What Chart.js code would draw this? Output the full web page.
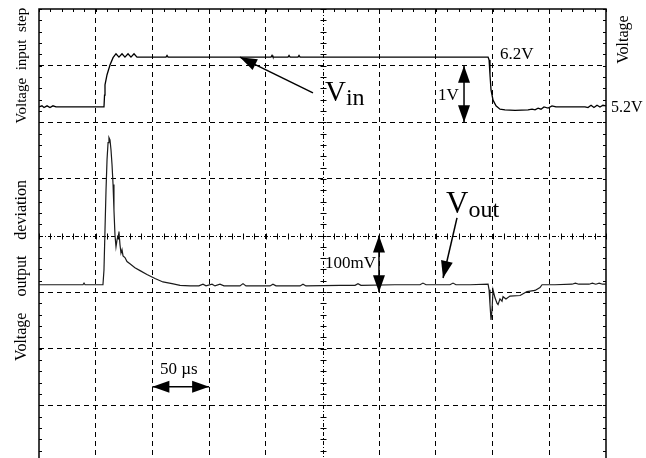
<!DOCTYPE html>
<html><head><meta charset="utf-8">
<script src="https://cdn.jsdelivr.net/npm/chart.js@4.4.1/dist/chart.umd.min.js"></script>
<style>html,body{margin:0;padding:0;background:#fff;overflow:hidden}#wrap{position:relative;width:646px;height:463px}</style>
</head><body><div id="wrap"><canvas id="c"></canvas></div>
<script>
// Time axis (µs), 50 µs per division
const timeRange = [0, 500];
const timeStep = 50;
// Output deviation axis (mV), 100 mV per division
const voutRange = [-300, 500];
const voutStep = 100;
// Input voltage axis (V), 1 V per division
const vinRange = [-0.8, 7.2];

// Input voltage step trace
const vinTime = [0,2.6,4.4,7.1,9.7,12.3,15.0,24.7,56.4,57.3,57.8,58.2,60.0,62.6,65.3,67.9,70.5,73.2,75.8,78.5,81.1,83.8,86.4,112.0,112.9,113.8,204.6,205.5,206.3,219.6,220.5,221.4,228.4,229.3,230.2,396.0,396.9,397.7,398.6,400.4,403.0,406.5,410.9,419.8,431.2,434.8,437.4,440.1,442.7,445.3,448.9,452.4,455.9,481.5,484.1,486.8,489.4,492.1,494.7,497.3,500];
const vinVolt = [5.47,5.49,5.46,5.49,5.46,5.49,5.47,5.47,5.47,5.47,5.68,5.86,6.04,6.21,6.34,6.41,6.35,6.41,6.35,6.41,6.35,6.41,6.35,6.35,6.38,6.35,6.35,6.38,6.35,6.35,6.38,6.35,6.35,6.38,6.35,6.35,6.30,6.04,5.77,5.59,5.49,5.43,5.42,5.41,5.42,5.43,5.42,5.45,5.43,5.47,5.45,5.49,5.47,5.47,5.46,5.50,5.46,5.50,5.47,5.50,5.49];

// Output voltage deviation trace
const voutTime = [0,38.8,39.7,40.6,56.4,57.3,58.2,59.1,60.0,60.9,61.7,62.6,63.5,64.4,65.3,66.1,67.0,67.9,68.8,69.7,70.5,71.4,72.3,73.2,74.1,75.8,77.6,80.2,84.6,89.1,95.2,102.3,109.3,117.3,124.4,133.2,141.0,144.6,147.3,152.6,155.2,159.6,163.1,177.2,179.9,182.5,203.7,206.3,209.0,230.2,232.8,235.4,265.4,278.7,281.3,283.9,313.9,336.0,338.6,341.3,362.4,365.1,367.7,380.1,396.0,396.9,397.7,398.6,399.5,400.4,402.1,404.0,404.8,406.5,408.3,409.2,411.8,415.3,424.2,427.7,430.3,437.4,441.8,443.6,455.0,470.0,473.0,476.0,485.0,488.0,491.0,494.0,497.0,500];
const voutMilliVolt = [13,13,16,13,13,39,110,180,234,264,273,269,251,225,190,145,101,80,92,100,107,84,69,75,64,61,54,50,43,38,31,24,18,15,12,11,11,14,11,14,11,14,11,11,15,11,11,14,11,11,14,11,12,12,15,12,13,13,16,13,13,16,13,13,14,4,-22,-49,-31,4,-10,-20,-22,-12,-16,-8,-12,-7,-6,-2,1,3,8,13,13,14,16,14,14,16,14,16,14,14];

const vinPoints = vinTime.map((t, i) => ({x: t, y: vinVolt[i]}));
const voutPoints = voutTime.map((t, i) => ({x: t, y: voutMilliVolt[i]}));

const SERIF = '"Liberation Serif", "Times New Roman", serif';

const overlay = {
  id: 'overlay',
  beforeDatasetsDraw(chart) {
    const {ctx, chartArea: a, scales} = chart;
    const X = v => scales.x.getPixelForValue(v);
    const Y = v => scales.y.getPixelForValue(v);
    ctx.save();
    ctx.strokeStyle = '#000';
    // centre cross-hair lines
    ctx.lineWidth = 1;
    ctx.setLineDash([4, 2, 1, 2]);
    const cx = Math.round(X(250)) + 0.5, cy = Math.round(Y(100)) + 0.5;
    ctx.beginPath();
    ctx.moveTo(cx, a.top); ctx.lineTo(cx, a.bottom);
    ctx.moveTo(a.left, cy); ctx.lineTo(a.right, cy);
    ctx.stroke();
    ctx.setLineDash([]);
    // minor ticks (5 per division)
    ctx.beginPath();
    for (let v = voutRange[0]; v <= voutRange[1]; v += 20) {
      const y = Math.round(Y(v)) + 0.5;
      ctx.moveTo(a.left, y); ctx.lineTo(a.left + 3, y);
      ctx.moveTo(a.right, y); ctx.lineTo(a.right - 3, y);
      ctx.moveTo(cx - 3, y); ctx.lineTo(cx + 3, y);
    }
    for (let t = timeRange[0]; t <= timeRange[1]; t += 10) {
      const x = Math.round(X(t)) + 0.5;
      ctx.moveTo(x, a.top); ctx.lineTo(x, a.top + 3);
      ctx.moveTo(x, cy - 3); ctx.lineTo(x, cy + 3);
      ctx.moveTo(x, a.bottom); ctx.lineTo(x, a.bottom - 3);
    }
    ctx.stroke();
    // frame
    ctx.lineWidth = 1.5;
    ctx.beginPath();
    ctx.moveTo(a.left, a.bottom); ctx.lineTo(a.left, a.top); ctx.lineTo(a.right, a.top); ctx.lineTo(a.right, a.bottom);
    ctx.stroke();
    ctx.restore();
  },
  afterDatasetsDraw(chart) {
    const {ctx, scales} = chart;
    const X = v => scales.x.getPixelForValue(v);
    const Y = v => scales.y.getPixelForValue(v);
    const YI = v => scales.yin.getPixelForValue(v);
    ctx.save();
    ctx.fillStyle = '#000';
    ctx.strokeStyle = '#000';
    const head = (x1, y1, x2, y2) => {
      const ang = Math.atan2(y2 - y1, x2 - x1), L = 17, W = 6;
      ctx.beginPath();
      ctx.moveTo(x2, y2);
      ctx.lineTo(x2 - L * Math.cos(ang) + W * Math.sin(ang), y2 - L * Math.sin(ang) - W * Math.cos(ang));
      ctx.lineTo(x2 - L * Math.cos(ang) - W * Math.sin(ang), y2 - L * Math.sin(ang) + W * Math.cos(ang));
      ctx.closePath();
      ctx.fill();
    };
    const arrow = (x1, y1, x2, y2, both) => {
      ctx.lineWidth = 1.5;
      ctx.beginPath(); ctx.moveTo(x1, y1); ctx.lineTo(x2, y2); ctx.stroke();
      head(x1, y1, x2, y2);
      if (both) head(x2, y2, x1, y1);
    };
    // double arrows
    arrow(X(374.8), YI(6.2), X(374.8), YI(5.2), true);      // 1V
    arrow(X(299.8), Y(100), X(299.8), Y(0), true);          // 100mV
    arrow(X(100), Y(-167), X(150), Y(-167), true);          // 50 µs
    // pointer arrows
    arrow(X(241.6), Y(352), X(177.2), Y(415), false);       // V_in
    arrow(X(368.6), Y(131), X(356.3), Y(25), false);        // V_out

    const text = (s, x, y, size, align) => {
      ctx.font = size + 'px ' + SERIF;
      ctx.textAlign = align || 'left';
      ctx.textBaseline = 'alphabetic';
      ctx.fillText(s, x, y);
    };
    text('6.2V', X(406.5), Y(412), 17);
    text('5.2V', X(504.4), Y(318), 16);
    text('1V', X(351.8), Y(340), 17);
    text('100mV', X(252.2), Y(43), 17);
    text('50 \u00b5s', X(106.7), Y(-144), 17);
    // subscripted labels
    const sub = (main, s, x, y, big) => {
      ctx.font = big + 'px ' + SERIF; ctx.textAlign = 'left';
      ctx.fillText(main, x, y);
      const w = ctx.measureText(main).width;
      ctx.font = '24px ' + SERIF;
      ctx.fillText(s, x + w, y + 4);
    };
    sub('V', 'in', X(252.2), Y(337), 29);
    sub('V', 'out', X(358.9), Y(140), 31);
    // rotated axis titles
    const rot = (s, x, y, size) => {
      ctx.save();
      ctx.translate(x, y); ctx.rotate(-Math.PI / 2);
      ctx.font = size + 'px ' + SERIF; ctx.textAlign = 'center'; ctx.textBaseline = 'alphabetic';
      ctx.fillText(s, 0, 0);
      ctx.restore();
    };
    rot('Voltage  input  step', X(-11.5), Y(400), 15);
    rot('Voltage    output    deviation', X(-11.5), Y(38), 16);
    rot('Voltage', X(519.5), Y(446), 16);
    ctx.restore();
  }
};

new Chart(document.getElementById('c'), {
  type: 'line',
  data: {
    datasets: [
      {label: 'Vin', data: vinPoints, yAxisID: 'yin', borderColor: '#000', borderWidth: 1.3, pointRadius: 0, tension: 0},
      {label: 'Vout', data: voutPoints, yAxisID: 'y', borderColor: '#1a1a1a', borderWidth: 1.2, pointRadius: 0, tension: 0}
    ]
  },
  options: {
    responsive: true,
    maintainAspectRatio: false,
    animation: false,
    layout: {padding: {left: 39, right: 40, top: 9, bottom: 1}},
    plugins: {legend: {display: false}, tooltip: {enabled: false}},
    scales: {
      x: {
        type: 'linear', min: timeRange[0], max: timeRange[1],
        ticks: {display: false, stepSize: timeStep},
        grid: {drawTicks: false, lineWidth: 1,
          color: c => (c.tick && [0, 250, 500].includes(c.tick.value)) ? 'rgba(0,0,0,0)' : '#000'},
        border: {display: false, dash: [5, 4]}
      },
      y: {
        type: 'linear', min: voutRange[0], max: voutRange[1],
        ticks: {display: false, stepSize: voutStep},
        grid: {drawTicks: false, lineWidth: 1,
          color: c => (c.tick && [100, 500, -300].includes(c.tick.value)) ? 'rgba(0,0,0,0)' : '#000'},
        border: {display: false, dash: [5, 4]}
      },
      yin: {type: 'linear', min: vinRange[0], max: vinRange[1], display: false}
    }
  },
  plugins: [overlay]
});
</script>
</body></html>
